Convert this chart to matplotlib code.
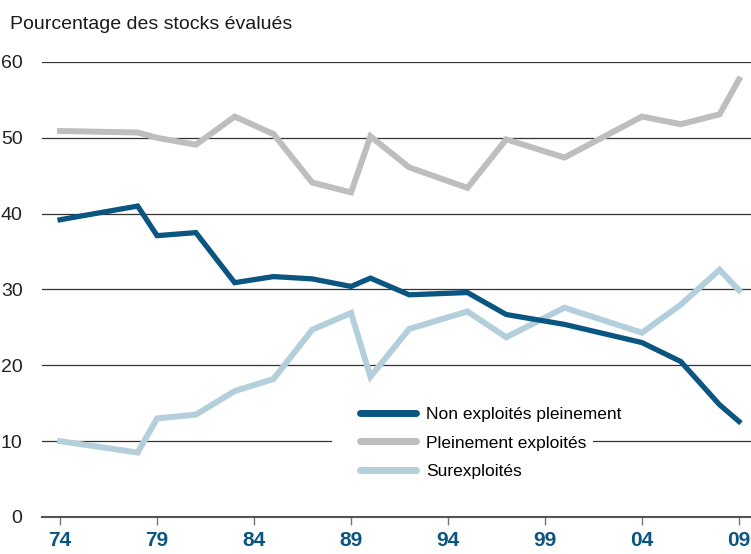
import matplotlib
matplotlib.use("Agg")
import matplotlib.pyplot as plt

plt.rcParams['font.family'] = ['Liberation Sans', 'DejaVu Sans']

years = [1974, 1978, 1979, 1981, 1983, 1985, 1987, 1989, 1990, 1992,
         1995, 1997, 2000, 2004, 2006, 2008, 2009]
non_pleinement = [39.2, 41.0, 37.1, 37.5, 30.9, 31.7, 31.4, 30.4, 31.5, 29.3,
                  29.6, 26.7, 25.4, 23.0, 20.5, 14.8, 12.6]
pleinement = [50.9, 50.7, 50.0, 49.1, 52.8, 50.5, 44.1, 42.8, 50.2, 46.1,
              43.4, 49.8, 47.4, 52.8, 51.8, 53.1, 57.7]
surexploites = [10.0, 8.5, 13.0, 13.5, 16.6, 18.2, 24.7, 26.9, 18.5, 24.8,
                27.1, 23.7, 27.6, 24.3, 28.0, 32.6, 29.9]

tick_years = [1974, 1979, 1984, 1989, 1994, 1999, 2004, 2009]
tick_labels = ['74', '79', '84', '89', '94', '99', '04', '09']
y_ticks = [0, 10, 20, 30, 40, 50, 60]

c_dark = '#0b5581'
c_gray = '#bebebe'
c_light = '#b4cfdc'

fig = plt.figure(figsize=(7.51, 5.54), dpi=100)
ax = fig.add_axes([0.056, 0.0668, 0.944, 0.8213])

ax.plot(years, pleinement, color=c_gray, lw=4.3, label='Pleinement exploités',
        solid_joinstyle='miter', zorder=3, clip_on=False)
ax.plot(years, surexploites, color=c_light, lw=4.3, label='Surexploités',
        solid_joinstyle='miter', zorder=3, clip_on=False)
ax.plot(years, non_pleinement, color=c_dark, lw=3.8, label='Non exploités pleinement',
        solid_joinstyle='miter', zorder=4, clip_on=False)

ax.set_xlim(1973.07, 2009.62)
ax.set_ylim(0, 60)

for s in ['top', 'right', 'left']:
    ax.spines[s].set_visible(False)
ax.spines['bottom'].set_color('#555555')
ax.spines['bottom'].set_linewidth(1.5)

ax.set_xticks(tick_years)
ax.set_xticklabels(tick_labels, color=c_dark, fontsize=15, fontweight='bold')
ax.tick_params(axis='x', direction='out', length=6, width=1, color='#777777', pad=4)

ax.set_yticks(y_ticks)
ax.set_yticklabels([str(v) for v in y_ticks], color='#222222', fontsize=14)
ax.tick_params(axis='y', length=0, pad=14)

fig.text(0.013, 0.955, 'Pourcentage des stocks évalués', fontsize=14,
         color='#1a1a1a', ha='left', va='center')

h, l = ax.get_legend_handles_labels()
order = [2, 0, 1]
leg = fig.legend([h[i] for i in order], [l[i] for i in order],
                 loc='center left', bbox_to_anchor=(0.468, 0.2004),
                 frameon=False, borderpad=0, fontsize=12.5,
                 handlelength=3.2, handletextpad=0.6, labelspacing=0.75)
for line in leg.get_lines():
    line.set_solid_capstyle('round')
    line.set_linewidth(5)

# gridlines; the one at 10 is cut where the legend sits
for v in [20, 30, 40, 50, 60]:
    ax.axhline(v, color='#333333', lw=0.9, zorder=1)
fig.canvas.draw()
ax_box = ax.get_window_extent()
txt_box = leg.get_texts()[1].get_window_extent()
gap_left = (fig.dpi * 7.51 * 0.468 - 20 - ax_box.x0) / ax_box.width
gap_right = (txt_box.x1 + 7 - ax_box.x0) / ax_box.width
ax.axhline(10, xmin=0, xmax=gap_left, color='#333333', lw=0.9, zorder=1)
ax.axhline(10, xmin=gap_right, xmax=1, color='#333333', lw=0.9, zorder=1)

fig.savefig('out.png', dpi=100)
